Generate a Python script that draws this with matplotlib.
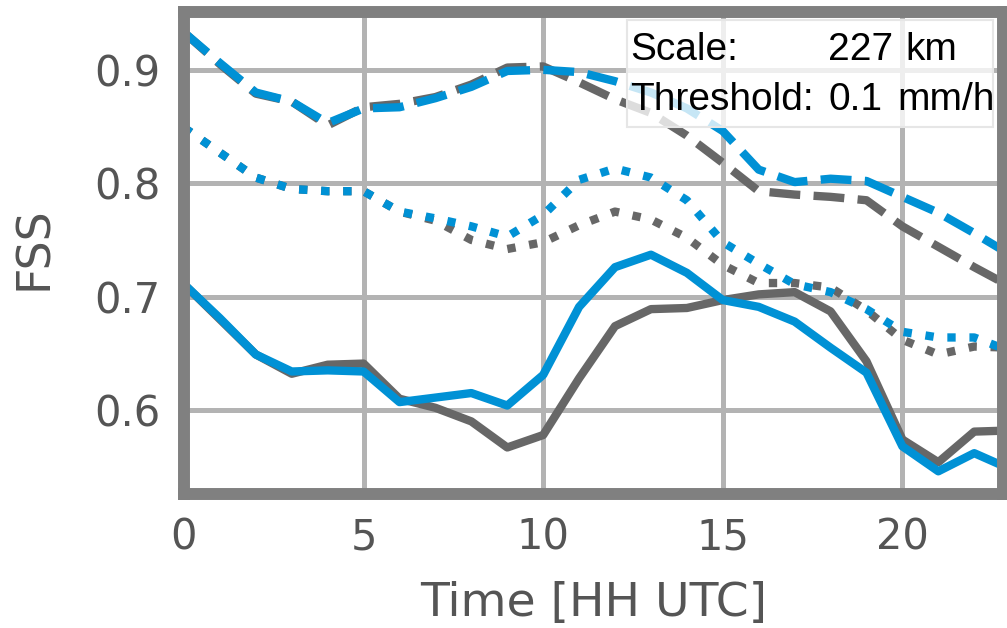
import matplotlib
matplotlib.use("Agg")
import matplotlib.pyplot as plt
from matplotlib.patches import Rectangle

# FSS time series, hourly
hours = list(range(24))

blue_solid = [0.711, 0.681, 0.649, 0.634, 0.635, 0.634, 0.607, 0.611, 0.615, 0.604, 0.631, 0.691,
              0.726, 0.737, 0.721, 0.697, 0.691, 0.678, 0.655, 0.633, 0.568, 0.546, 0.562, 0.548]
gray_solid = [0.711, 0.680, 0.649, 0.632, 0.640, 0.641, 0.610, 0.602, 0.590, 0.567, 0.578, 0.628,
              0.674, 0.689, 0.690, 0.697, 0.702, 0.704, 0.687, 0.643, 0.574, 0.554, 0.581, 0.582]
blue_dashed = [0.933, 0.906, 0.880, 0.872, 0.853, 0.866, 0.867, 0.875, 0.885, 0.899, 0.900, 0.898,
               0.890, 0.880, 0.866, 0.846, 0.812, 0.801, 0.804, 0.802, 0.788, 0.774, 0.756, 0.737]
gray_dashed = [0.933, 0.905, 0.879, 0.872, 0.851, 0.867, 0.870, 0.876, 0.887, 0.902, 0.903, 0.889,
               0.874, 0.862, 0.842, 0.818, 0.793, 0.790, 0.788, 0.785, 0.762, 0.744, 0.726, 0.709]
blue_dotted = [0.849, 0.827, 0.805, 0.795, 0.793, 0.793, 0.775, 0.769, 0.762, 0.753, 0.772, 0.803,
               0.813, 0.805, 0.785, 0.748, 0.729, 0.711, 0.704, 0.689, 0.669, 0.664, 0.664, 0.652]
gray_dotted = [0.849, 0.827, 0.805, 0.795, 0.793, 0.793, 0.775, 0.767, 0.750, 0.742, 0.748, 0.763,
               0.775, 0.768, 0.752, 0.728, 0.712, 0.712, 0.708, 0.688, 0.662, 0.649, 0.656, 0.655]

x_ticks = [0, 5, 10, 15, 20]
y_ticks = [0.6, 0.7, 0.8, 0.9]

BLUE = "#0091d5"
GRAY = "#676767"
FRAME = "#808080"
GRID = "#b3b3b3"
TEXT = "#555555"

fig = plt.figure(figsize=(10.07, 6.28), dpi=100)
ax = fig.add_axes([0.1827, 0.2134, 0.8133, 0.7675])

lw = 6.0
ax.plot(hours, gray_dotted, color=GRAY, lw=lw, ls=":")
ax.plot(hours, blue_dotted, color=BLUE, lw=lw, ls=":")
ax.plot(hours, gray_dashed, color=GRAY, lw=lw, ls="--")
ax.plot(hours, blue_dashed, color=BLUE, lw=lw, ls="--")
ax.plot(hours, gray_solid, color=GRAY, lw=lw)
ax.plot(hours, blue_solid, color=BLUE, lw=lw)

ax.set_xlim(0, 22.8)
ax.set_ylim(0.526, 0.951)
ax.set_xticks(x_ticks)
ax.set_yticks(y_ticks)
ax.set_yticklabels([f"{v:.1f}" for v in y_ticks])
ax.tick_params(length=0, labelsize=30, labelcolor=TEXT)
ax.tick_params(axis="y", pad=17)
ax.tick_params(axis="x", pad=16)

ax.set_axisbelow(True)
ax.grid(True, color=GRID, lw=3.6)
for sp in ax.spines.values():
  sp.set_color(FRAME)
  sp.set_linewidth(8.6)

ax.set_ylabel("FSS", fontsize=33, color=TEXT)
ax.yaxis.set_label_coords(-0.155, 0.51)
ax.set_xlabel("Time [HH UTC]", fontsize=34, color=TEXT)
ax.xaxis.set_label_coords(0.5, -0.18)

# info box, top right
ax.add_patch(Rectangle((0.541, 0.761), 0.447, 0.222, transform=ax.transAxes,
                       facecolor="white", alpha=0.78, edgecolor="none", zorder=5))
ax.add_patch(Rectangle((0.541, 0.761), 0.447, 0.222, transform=ax.transAxes,
                       facecolor="none", edgecolor="#e6e6e6", lw=1.5, zorder=5))
box_font = dict(fontsize=28, family="Liberation Sans", color="black",
                va="baseline", ha="left", transform=ax.transAxes, zorder=6)
ax.text(0.5446, 0.900, "Scale:", **box_font)
ax.text(0.7863, 0.900, "227", **box_font)
ax.text(0.8803, 0.900, "km", **box_font)
ax.text(0.5446, 0.797, "Threshold:", **box_font)
ax.text(0.7875, 0.797, "0.1", **box_font)
ax.text(0.8706, 0.797, "mm/h", **box_font)

fig.savefig("out.png", dpi=100)
